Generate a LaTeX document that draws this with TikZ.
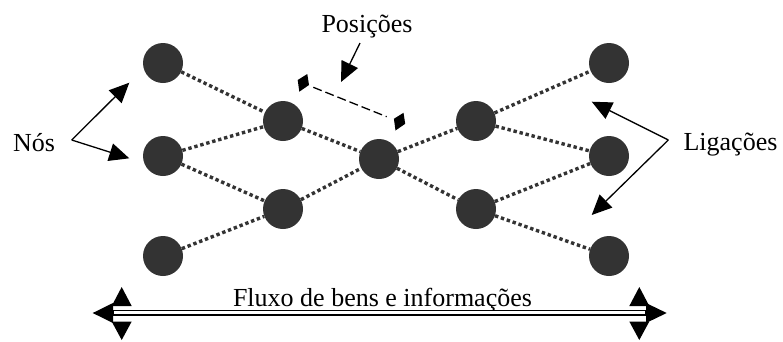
\documentclass[tikz,border=0pt]{standalone}
\usepackage{fontspec}
\setmainfont{Liberation Serif}
\usetikzlibrary{arrows.meta,calc}
\definecolor{ndgray}{HTML}{333333}
\begin{document}
\begin{tikzpicture}[x=1pt,y=-1pt,
  netnode/.style={circle,fill=ndgray,draw=none,minimum size=40pt,inner sep=0pt},
  link/.style={draw=ndgray,line width=3.4pt,dash pattern=on 3.4pt off 2.8pt},
  pointer/.style={line width=1.3pt,-{Triangle[length=20pt,width=18pt]}},
  lbl/.style={font=\fontsize{26}{30}\selectfont,anchor=base,inner sep=0pt},
  marker/.style={fill=black}]
\useasboundingbox (0,0) rectangle (783,341);

% nodes
\node[netnode] (L1) at (163,63) {};
\node[netnode] (L2) at (163,156) {};
\node[netnode] (L3) at (163,256) {};
\node[netnode] (A1) at (283,121) {};
\node[netnode] (A2) at (283,209) {};
\node[netnode] (C)  at (379,159) {};
\node[netnode] (B1) at (476,121) {};
\node[netnode] (B2) at (476,209) {};
\node[netnode] (R1) at (609,63) {};
\node[netnode] (R2) at (609,156) {};
\node[netnode] (R3) at (609,256) {};

% links
\draw[link] (L1) -- (A1);
\draw[link] (L2) -- (A1);
\draw[link] (L2) -- (A2);
\draw[link] (L3) -- (A2);
\draw[link] (A1) -- (C);
\draw[link] (A2) -- (C);
\draw[link] (C) -- (B1);
\draw[link] (C) -- (B2);
\draw[link] (B1) -- (R1);
\draw[link] (B1) -- (R2);
\draw[link] (B2) -- (R2);
\draw[link] (B2) -- (R3);

% labels
\node[lbl] (tpos) at (367,32.5) {Posições};
\node[lbl] (tnos) at (34,151.7) {Nós};
\node[lbl] (tlig) at (730.5,150.7) {Ligações};
\node[lbl] (tflu) at (382.5,306) {Fluxo de bens e informações};

% Nós pointers
\coordinate (nv) at (71.7,140);
\coordinate (nt1) at (129.3,82.7);
\coordinate (nt2) at (129.3,158.3);
\draw[pointer] (nv) -- (nt1);
\draw[pointer] (nv) -- (nt2);

% Ligações pointers
\coordinate (lv) at (668.3,140);
\coordinate (lt1) at (591.7,101.7);
\coordinate (lt2) at (591.7,215);
\draw[pointer] (lv) -- (lt1);
\draw[pointer] (lv) -- (lt2);

% Posições pointer and markers
\coordinate (ps) at (360,43);
\coordinate (pt) at (341,82);
\draw[pointer] (ps) -- (pt);
\coordinate (d1) at (303.3,82.9);
\coordinate (d2) at (399.5,121.7);
\fill[marker] ($(d1)+(-5.6,-2.9)$) -- ($(d1)+(4,-8.9)$) -- ($(d1)+(5.7,2.1)$) -- ($(d1)+(-4,8.8)$) -- cycle;
\fill[marker] ($(d2)+(-5.6,-2.9)$) -- ($(d2)+(4,-8.9)$) -- ($(d2)+(5.7,2.1)$) -- ($(d2)+(-4,8.8)$) -- cycle;
\coordinate (ds) at (313.3,87.3);
\coordinate (de) at (386.7,116.7);
\draw[line width=1.3pt,dash pattern=on 9pt off 4pt] (ds) -- (de);

% flow arrow
\draw[line width=1.1pt,fill=white] (113,310.5) rectangle (646,315);
\fill (92.7,313) -- (113,303) -- (113,323) -- cycle;
\fill (121.7,287) -- (131.7,306) -- (111.7,306) -- cycle;
\fill (121.7,340) -- (131.7,321.5) -- (111.7,321.5) -- cycle;
\fill (666.7,313) -- (646,303) -- (646,323) -- cycle;
\fill (639.3,287) -- (649.3,306) -- (629.3,306) -- cycle;
\fill (639.3,340) -- (649.3,321.5) -- (629.3,321.5) -- cycle;
\end{tikzpicture}
\end{document}
